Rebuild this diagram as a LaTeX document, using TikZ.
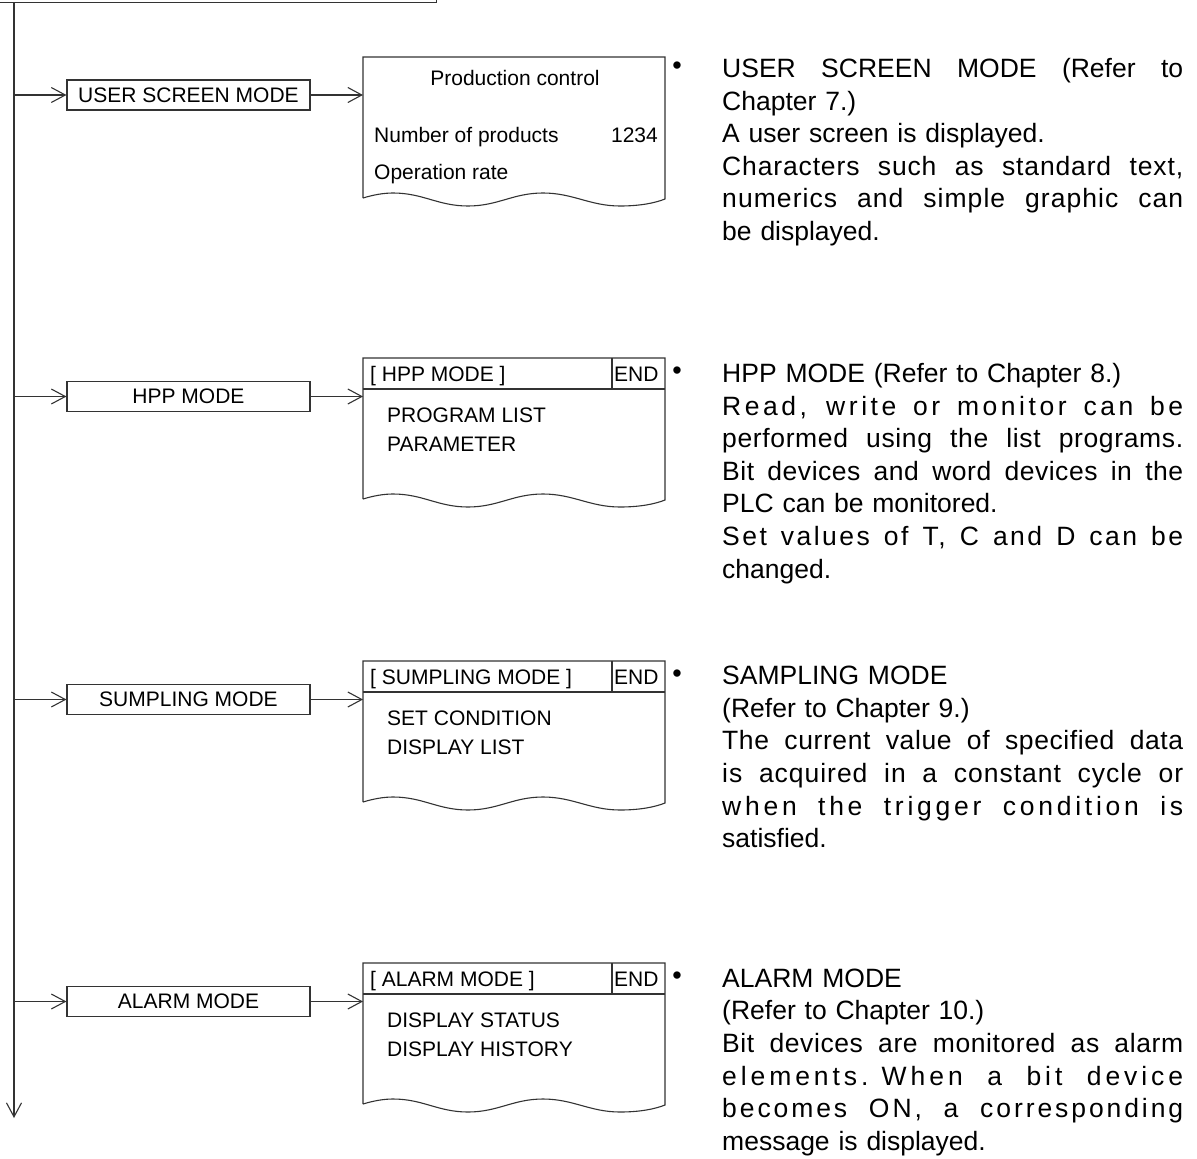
\documentclass[tikz,border=0pt]{standalone}
\usepackage{fontspec}
\setmainfont{Liberation Sans}
\usetikzlibrary{arrows.meta}
\setlength\parindent{0pt}
\newlength\dw \setlength\dw{461pt}
\newlength\wa \newlength\wb
% justified line: #1 = share of the free room given to letter spacing
\newcommand\JJ[2]{%
  \settowidth\wa{#2}%
  \settowidth\wb{\addfontfeature{LetterSpace=10}#2}%
  \pgfmathsetmacro\lsp{10*#1*(\dw-\wa)/(\wb-\wa)}%
  \edef\dolsp{\noexpand\addfontfeature{LetterSpace=\lsp}}%
  \makebox[\dw][s]{\dolsp\spaceskip=.28em plus 1fil\relax #2}}
\newcommand\screenshape[2]{%
  \node[scr] (#1) at (363,#2) {};
  \draw[ln] (363,#2+141) -- (363,#2) -- (665,#2) -- (665,#2+142)
    .. controls (655,#2+146) and (640,#2+149) .. (620,#2+149)
    .. controls (590,#2+149) and (573,#2+136) .. (543,#2+136)
    .. controls (513,#2+136) and (498,#2+149) .. (468,#2+149)
    .. controls (438,#2+149) and (423,#2+136) .. (393,#2+136)
    .. controls (383,#2+136) and (373,#2+138) .. (363,#2+141);
}
\newcommand\screenheader[3]{% name, top, title
  \draw[ln] (363,#2+31) -- (665,#2+31);
  \draw[ln] (612,#2) -- (612,#2+31);
  \node[stxt, anchor=base west] (#1t) at (370,#2+23.5) {#3};
  \node[stxt, anchor=base west] (#1e) at (614,#2+23.5) {END};
}
\begin{document}
\begin{tikzpicture}[x=1pt,y=-1pt,
  ln/.style={line width=1.1pt, draw=black!80},
  arr/.style={ln, -{Straight Barb[length=14pt,width=15pt,line width=1.1pt]}},
  modebox/.style={ln, draw, minimum width=243pt, minimum height=30pt, inner sep=0pt, font=\fontsize{21}{21}\selectfont},
  scr/.style={minimum width=302pt, minimum height=141pt, inner sep=0pt, anchor=north west},
  stxt/.style={inner sep=0pt, font=\fontsize{21}{21}\selectfont},
  desc/.style={inner sep=0pt, text width=461pt, align=left, anchor=north west, font=\fontsize{26.5}{32.6}\selectfont},
  bul/.style={inner sep=0pt, font=\fontsize{27}{27}\selectfont}]
\useasboundingbox (0,0) rectangle (1197,1159);

% top box (only its bottom edge is visible)
\node[ln, draw, minimum width=480pt, minimum height=60pt, inner sep=0pt, anchor=south east] (top) at (437,3) {};
\coordinate (vtop) at (14,3);
\coordinate (vend) at (14,1118);
\draw[arr] (vtop) -- (vend);

% ---------- row 1
\node[modebox] (m1) at (188.5,95) {USER SCREEN MODE};
\screenshape{s1}{57}
\node[stxt, anchor=base] (p1) at (515,85.5) {Production control};
\node[stxt, anchor=base west] (p2) at (374,142.5) {Number of products};
\node[stxt, anchor=base east] (p3) at (658,142.5) {1234};
\node[stxt, anchor=base west] (p4) at (374,179.5) {Operation rate};
\draw[arr] (m1.west -| vtop) -- (m1.west);
\draw[arr] (m1.east) -- (m1.east -| s1.west);
\node[bul] (b1) at (677,68) {\textbullet};
\node[desc] (d1) at (722,58) {\JJ{0}{USER SCREEN MODE (Refer to}\\
Chapter 7.)\\
A user screen is displayed.\\
\JJ{0.35}{Characters such as standard text,}\\
\JJ{0.35}{numerics and simple graphic can}\\
be displayed.};

% ---------- row 2
\node[modebox] (m2) at (188.5,396.5) {HPP MODE};
\screenshape{s2}{358}
\screenheader{h2}{358}{[ HPP MODE ]}
\node[stxt, anchor=base west] (q1) at (387,422.5) {PROGRAM LIST};
\node[stxt, anchor=base west] (q2) at (387,451.5) {PARAMETER};
\draw[arr] (m2.west -| vtop) -- (m2.west);
\draw[arr] (m2.east) -- (m2.east -| s2.west);
\node[bul] (b2) at (677,373) {\textbullet};
\node[desc] (d2) at (722,363) {HPP MODE (Refer to Chapter 8.)\\
\JJ{0.6}{Read, write or monitor can be}\\
\JJ{0.3}{performed using the list programs.}\\
\JJ{0.3}{Bit devices and word devices in the}\\
PLC can be monitored.\\
\JJ{0.45}{Set values of T, C and D can be}\\
changed.};

% ---------- row 3
\node[modebox] (m3) at (188.5,699.5) {SUMPLING MODE};
\screenshape{s3}{661}
\screenheader{h3}{661}{[ SUMPLING MODE ]}
\node[stxt, anchor=base west] (r1) at (387,725.5) {SET CONDITION};
\node[stxt, anchor=base west] (r2) at (387,754.5) {DISPLAY LIST};
\draw[arr] (m3.west -| vtop) -- (m3.west);
\draw[arr] (m3.east) -- (m3.east -| s3.west);
\node[bul] (b3) at (677,676) {\textbullet};
\node[desc] (d3) at (722,666) {SAMPLING MODE\\
(Refer to Chapter 9.)\\
\JJ{0.3}{The current value of specified data}\\
\JJ{0.3}{is acquired in a constant cycle or}\\
\JJ{0.6}{when the trigger condition is}\\
satisfied.};

% ---------- row 4
\node[modebox] (m4) at (188.5,1001.5) {ALARM MODE};
\screenshape{s4}{963}
\screenheader{h4}{963}{[ ALARM MODE ]}
\node[stxt, anchor=base west] (t1) at (387,1027.5) {DISPLAY STATUS};
\node[stxt, anchor=base west] (t2) at (387,1056.5) {DISPLAY HISTORY};
\draw[arr] (m4.west -| vtop) -- (m4.west);
\draw[arr] (m4.east) -- (m4.east -| s4.west);
\node[bul] (b4) at (677,978) {\textbullet};
\node[desc] (d4) at (722,968.5) {ALARM MODE\\
(Refer to Chapter 10.)\\
\JJ{0.3}{Bit devices are monitored as alarm}\\
\JJ{0.6}{elements. When a bit device}\\
\JJ{0.6}{becomes ON, a corresponding}\\
message is displayed.};
\end{tikzpicture}
\end{document}
